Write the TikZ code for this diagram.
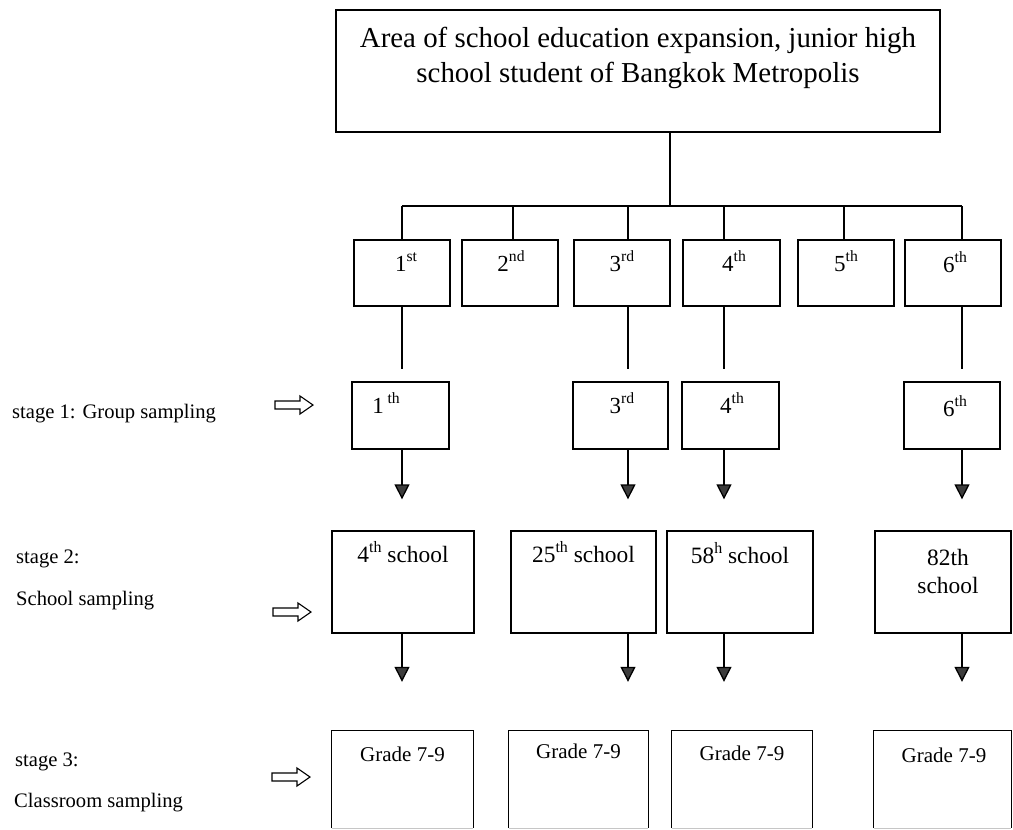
\documentclass[tikz,border=0pt]{standalone}
\usepackage{fontspec}
\setmainfont{Liberation Serif}
\usetikzlibrary{arrows.meta}
\definecolor{tipgray}{HTML}{3C3C3C}
\newcommand\ordsup[1]{\raisebox{0.42em}{\scalebox{0.68}{#1}}}
\begin{document}
\begin{tikzpicture}[x=1pt,y=-1pt,
  box/.style={draw, line width=1.3pt, inner sep=0pt},
  openbox/.style={draw=none, inner sep=0pt},
  conn/.style={line width=1.3pt},
  arr/.style={line width=1.3pt, -{Triangle[width=15pt,length=15pt,fill=tipgray]}},
  title/.style={font=\fontsize{28.9}{35}\selectfont, anchor=base, inner sep=0pt},
  ord/.style={font=\fontsize{23}{27}\selectfont, anchor=base, inner sep=0pt},
  sch/.style={font=\fontsize{23.4}{28}\selectfont, anchor=base, inner sep=0pt},
  grd/.style={font=\fontsize{21}{25}\selectfont, anchor=base, inner sep=0pt},
  stg/.style={font=\fontsize{20.6}{25}\selectfont, anchor=base west, inner sep=0pt},
  harrow/.pic={\draw[line width=1.1pt] (0,-4) -- (25,-4) -- (25,-9) -- (38,0) -- (25,9) -- (25,4) -- (0,4) -- cycle;}
]
\useasboundingbox (0,0) rectangle (1013,830);

% top box
\node[box, minimum width=604pt, minimum height=122pt] (top) at (638,71) {};
\node[title] (t1txt) at (638,47) {Area of school education expansion, junior high};
\node[title] (t2txt) at (638,82) {school student of Bangkok Metropolis};

% level 1 boxes
\node[box, minimum width=96pt, minimum height=66pt] (b1) at (402,273) {};
\node[box, minimum width=96pt, minimum height=66pt] (b2) at (510,273) {};
\node[box, minimum width=96pt, minimum height=66pt] (b3) at (622,273) {};
\node[box, minimum width=97pt, minimum height=66pt] (b4) at (731.5,273) {};
\node[box, minimum width=96pt, minimum height=66pt] (b5) at (846,273) {};
\node[box, minimum width=96pt, minimum height=66pt] (b6) at (953,273) {};
\node[ord] (b1t) at (406,271) {1\ordsup{st}};
\node[ord] (b2t) at (511,271) {2\ordsup{nd}};
\node[ord] (b3t) at (622,271) {3\ordsup{rd}};
\node[ord] (b4t) at (734,271) {4\ordsup{th}};
\node[ord] (b5t) at (846,271) {5\ordsup{th}};
\node[ord] (b6t) at (955,272) {6\ordsup{th}};

% bus
\coordinate (j0) at (670,206);
\coordinate (d1) at (402,206);
\coordinate (d2) at (513,206);
\coordinate (d3) at (628,206);
\coordinate (d4) at (724,206);
\coordinate (d5) at (844,206);
\coordinate (d6) at (962,206);
\draw[conn] (top.south -| j0) -- (j0);
\draw[conn] (d1) -- (d6);
\foreach \i in {1,...,6} {\draw[conn] (d\i) -- (d\i |- b\i.north);}

% stage 1 boxes
\node[box, minimum width=97pt, minimum height=67pt] (s1) at (400.5,415.5) {};
\node[box, minimum width=95pt, minimum height=67pt] (s3) at (620.5,415.5) {};
\node[box, minimum width=97pt, minimum height=67pt] (s4) at (730.5,415.5) {};
\node[box, minimum width=96pt, minimum height=67pt] (s6) at (952,415.5) {};
\node[ord] (s1t) at (386,413) {1\,\ordsup{th}};
\node[ord] (s3t) at (622,413) {3\ordsup{rd}};
\node[ord] (s4t) at (732,413) {4\ordsup{th}};
\node[ord] (s6t) at (955,416) {6\ordsup{th}};

\foreach \i in {1,3,4,6} {\draw[conn, shorten >=12pt] (d\i |- b\i.south) -- (d\i |- s\i.north);}

% stage 2 boxes
\node[box, minimum width=142pt, minimum height=102pt] (t1) at (403,582) {};
\node[box, minimum width=145pt, minimum height=102pt] (t2) at (583.5,582) {};
\node[box, minimum width=146pt, minimum height=102pt] (t3) at (740,582) {};
\node[box, minimum width=136pt, minimum height=102pt] (t4) at (943,582) {};
\node[sch] (t1t) at (403,562) {4\ordsup{th} school};
\node[sch] (t2t) at (583.5,562) {25\ordsup{th} school};
\node[sch] (t3t) at (740,563) {58\ordsup{h} school};
\node[sch] (t4t) at (948,565) {82th};
\node[sch] (t4u) at (948,593) {school};

\draw[arr, shorten >=31pt] (d1 |- s1.south) -- (d1 |- t1.north);
\draw[arr, shorten >=31pt] (d3 |- s3.south) -- (d3 |- t2.north);
\draw[arr, shorten >=31pt] (d4 |- s4.south) -- (d4 |- t3.north);
\draw[arr, shorten >=31pt] (d6 |- s6.south) -- (d6 |- t4.north);

% stage 3 boxes
\node[openbox, minimum width=141pt, minimum height=97pt] (u1) at (402.5,779.5) {};
\node[openbox, minimum width=139pt, minimum height=97pt] (u2) at (578.5,779.5) {};
\node[openbox, minimum width=140pt, minimum height=97pt] (u3) at (742,779.5) {};
\node[openbox, minimum width=137pt, minimum height=97pt] (u4) at (942.5,779.5) {};
\foreach \u in {u1,u2,u3,u4} {
  \draw[conn] (\u.south west) -- (\u.north west) -- (\u.north east) -- (\u.south east);
  \draw[conn, gray!45] (\u.south west) -- (\u.south east);
}
\node[grd] (u1t) at (402.5,761) {Grade 7-9};
\node[grd] (u2t) at (578.5,758) {Grade 7-9};
\node[grd] (u3t) at (742,760) {Grade 7-9};
\node[grd] (u4t) at (944,762) {Grade 7-9};

\draw[arr, shorten >=49pt] (d1 |- t1.south) -- (d1 |- u1.north);
\draw[arr, shorten >=49pt] (d3 |- t2.south) -- (d3 |- u2.north);
\draw[arr, shorten >=49pt] (d4 |- t3.south) -- (d4 |- u3.north);
\draw[arr, shorten >=49pt] (d6 |- t4.south) -- (d6 |- u4.north);

% stage labels
\node[stg] (l1) at (12,418) {stage 1: Group sampling};
\node[stg] (l2a) at (16,563) {stage 2:};
\node[stg] (l2b) at (16,605) {School sampling};
\node[stg] (l3a) at (15,766) {stage 3:};
\node[stg] (l3b) at (14,807) {Classroom sampling};

% hollow arrows
\pic at (275,405) {harrow};
\pic at (273,612) {harrow};
\pic at (272,777) {harrow};
\end{tikzpicture}
\end{document}
